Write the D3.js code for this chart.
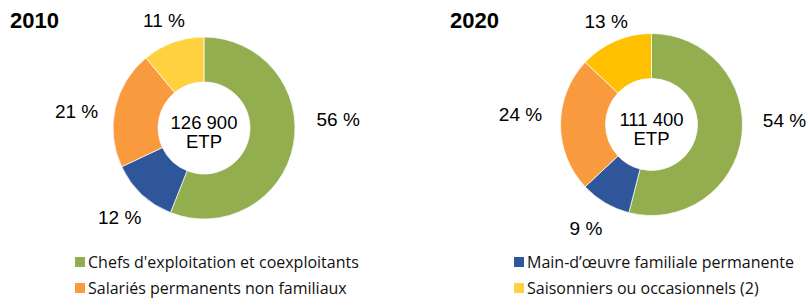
<!DOCTYPE html>
<html>
<head>
<meta charset="utf-8">
<script src="https://cdn.jsdelivr.net/npm/d3@7"></script>
<style>
  body { margin: 0; background: #fff; }
  svg { display: block; }
</style>
</head>
<body>
<svg width="810" height="300"></svg>
<script>
// données
const categories = [
    "Chefs d'exploitation et coexploitants",
    "Main-d\u2019\u0153uvre familiale permanente",
    "Salariés permanents non familiaux",
    "Saisonniers ou occasionnels (2)"
];
const years = ["2010", "2020"];
const totals = ["126 900", "111 400"];
const shares2010 = [56, 12, 21, 11];
const shares2020 = [54, 9, 24, 13];

const colors = ["#92ae4f", "#2f559a", "#f99a3e", "#ffd040"];
const colors2020 = ["#92ae4f", "#2f559a", "#f99a3e", "#ffc000"];

const svg = d3.select("svg");
const labelFont = "Liberation Sans, Arial, sans-serif";

const charts = [
    { year: years[0], total: totals[0], values: shares2010, colors: colors,
      cx: 204, cy: 128, titleX: 10, nudge: [[12, -32], [0, 0], [-6, 10], [0, 4]] },
    { year: years[1], total: totals[1], values: shares2020, colors: colors2020,
      cx: 651.5, cy: 124.5, titleX: 450, nudge: [[10, -20], [-4, 0], [-8, -10], [2, 6]] }
];

const outerR = 91, innerR = 46;

const pie = d3.pie().sort(null).value(d => d);
const arc = d3.arc().innerRadius(innerR).outerRadius(outerR);

charts.forEach(c => {
    const g = svg.append("g").attr("transform", `translate(${c.cx},${c.cy})`);
    const arcs = pie(c.values);

    g.selectAll("path")
        .data(arcs)
        .join("path")
        .attr("d", arc)
        .attr("fill", (d, i) => c.colors[i])
        .attr("stroke", "#fff")
        .attr("stroke-width", 0.7);

    // étiquettes autour de l'anneau
    const w = 40, h = 18;
    const pos = (d, i) => {
        const a = (d.startAngle + d.endAngle) / 2;
        const dist = outerR + 12 + 0.5 * (w * Math.abs(Math.sin(a)) + h * Math.abs(Math.cos(a)));
        return [dist * Math.sin(a) + c.nudge[i][0], -dist * Math.cos(a) + c.nudge[i][1]];
    };
    g.selectAll("text.pct")
        .data(arcs)
        .join("text")
        .attr("class", "pct")
        .attr("font-family", labelFont)
        .attr("font-size", 19)
        .attr("text-anchor", "middle")
        .attr("dy", "0.35em")
        .attr("x", (d, i) => pos(d, i)[0])
        .attr("y", (d, i) => pos(d, i)[1])
        .text(d => d.data + " %");

    g.append("text")
        .attr("font-family", labelFont)
        .attr("font-size", 18.5)
        .attr("text-anchor", "middle")
        .attr("y", 1)
        .text(c.total);
    g.append("text")
        .attr("font-family", labelFont)
        .attr("font-size", 18.5)
        .attr("text-anchor", "middle")
        .attr("y", 20)
        .text("ETP");

    svg.append("text")
        .attr("x", c.titleX)
        .attr("y", 28)
        .attr("font-family", labelFont)
        .attr("font-weight", "bold")
        .attr("font-size", 22)
        .text(c.year);
});

// légende
const legendPos = [[75, 262], [514, 262], [75, 288], [514, 288]];
const legend = svg.append("g");
categories.forEach((cat, i) => {
    const item = legend.append("g").attr("transform", `translate(${legendPos[i][0]},${legendPos[i][1]})`);
    item.append("rect")
        .attr("x", 0).attr("y", -5)
        .attr("width", 10).attr("height", 10)
        .attr("fill", colors[i]);
    item.append("text")
        .attr("x", 13)
        .attr("dy", "0.35em")
        .attr("font-family", "Open Sans, sans-serif")
        .attr("font-size", 16)
        .attr("fill", "#111")
        .text(cat);
});
</script>
</body>
</html>
